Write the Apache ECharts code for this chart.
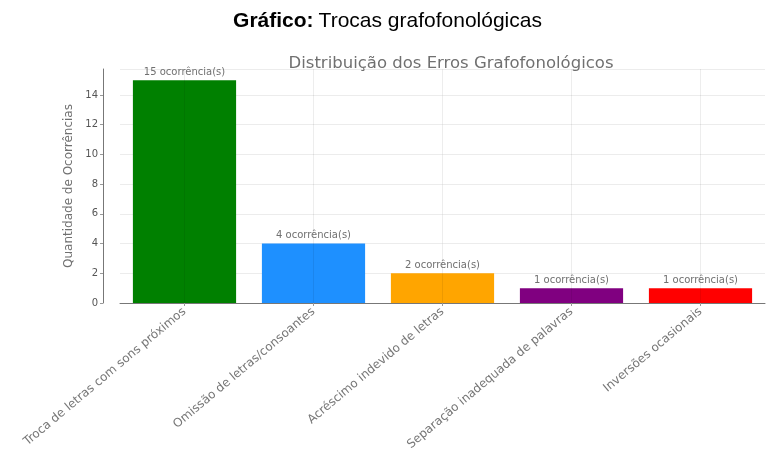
<!DOCTYPE html>
<html>
<head>
<meta charset="utf-8">
<script src="https://cdn.jsdelivr.net/npm/echarts@6/dist/echarts.min.js"></script>
<style>
  html, body { margin: 0; padding: 0; background: #ffffff; }
  #chart { width: 775px; height: 465px; }
</style>
</head>
<body>
<div id="chart"></div>
<script>
// Error categories and counts
const categories = [
  'Troca de letras com sons próximos',
  'Omissão de letras/consoantes',
  'Acréscimo indevido de letras',
  'Separação inadequada de palavras',
  'Inversões ocasionais'
];
const counts = [15, 4, 2, 1, 1];
const barColors = ['#008000', '#1E90FF', '#FFA500', '#800080', '#FF0000'];
const yTicks = [0, 2, 4, 6, 8, 10, 12, 14];

const chart = echarts.init(document.getElementById('chart'), null, { renderer: 'canvas' });

chart.setOption({
  backgroundColor: '#ffffff',
  animation: false,
  title: [
    {
      text: '{b|Gráfico:} {n|Trocas grafofonológicas}',
      left: 'center',
      top: 6,
      textStyle: {
        rich: {
          b: { fontFamily: 'Liberation Sans', fontSize: 21, fontWeight: 'bold', color: '#000' },
          n: { fontFamily: 'Liberation Sans', fontSize: 21, fontWeight: 'normal', color: '#000' }
        }
      }
    },
    {
      text: 'Distribuição dos Erros Grafofonológicos',
      left: 446,
      textAlign: 'center',
      top: 50,
      textStyle: { fontFamily: 'DejaVu Sans', fontSize: 16.5, fontWeight: 'normal', color: '#707070' }
    }
  ],
  grid: { left: 120, right: 10, top: 69, bottom: 162, containLabel: false },
  xAxis: {
    type: 'category',
    data: categories,
    boundaryGap: true,
    axisLine: { show: true, lineStyle: { color: '#777', width: 1 } },
    axisTick: { show: true, alignWithLabel: true, length: 3, lineStyle: { color: '#999' } },
    axisLabel: {
      interval: 0,
      rotate: 40,
      margin: 7,
      fontFamily: 'DejaVu Sans',
      fontSize: 12,
      color: '#777'
    },
    splitLine: { show: false }
  },
  yAxis: {
    type: 'value',
    min: 0,
    max: 15.75,
    interval: 2,
    offset: 17,
    name: 'Quantidade de Ocorrências',
    nameLocation: 'middle',
    nameGap: 28,
    nameTextStyle: { fontFamily: 'DejaVu Sans', fontSize: 12, color: '#707070' },
    axisLine: { show: true, lineStyle: { color: '#777', width: 1 } },
    axisTick: { show: true, length: 3, lineStyle: { color: '#999' } },
    axisLabel: {
      showMaxLabel: false,
      margin: 5,
      fontFamily: 'DejaVu Sans',
      fontSize: 10,
      color: '#555',
      formatter: function (v) { return yTicks.indexOf(v) >= 0 ? String(v) : ''; }
    },
    splitLine: { show: true, lineStyle: { color: '#ececec', width: 1 } }
  },
  series: [{
    type: 'bar',
    data: counts.map(function (v, i) {
      return { value: v, itemStyle: { color: barColors[i] } };
    }),
    barWidth: '80%',
    label: {
      show: true,
      position: 'top',
      distance: 3,
      fontFamily: 'DejaVu Sans',
      fontSize: 10,
      color: '#707070',
      formatter: function (p) { return p.value + ' ocorrência(s)'; }
    },
    // faint vertical grid lines through each category centre
    markLine: {
      silent: true,
      symbol: 'none',
      label: { show: false },
      lineStyle: { color: '#000', opacity: 0.07, type: 'solid', width: 1 },
      data: categories.map(function (c) { return { xAxis: c }; })
    }
  }]
});
</script>
</body>
</html>
